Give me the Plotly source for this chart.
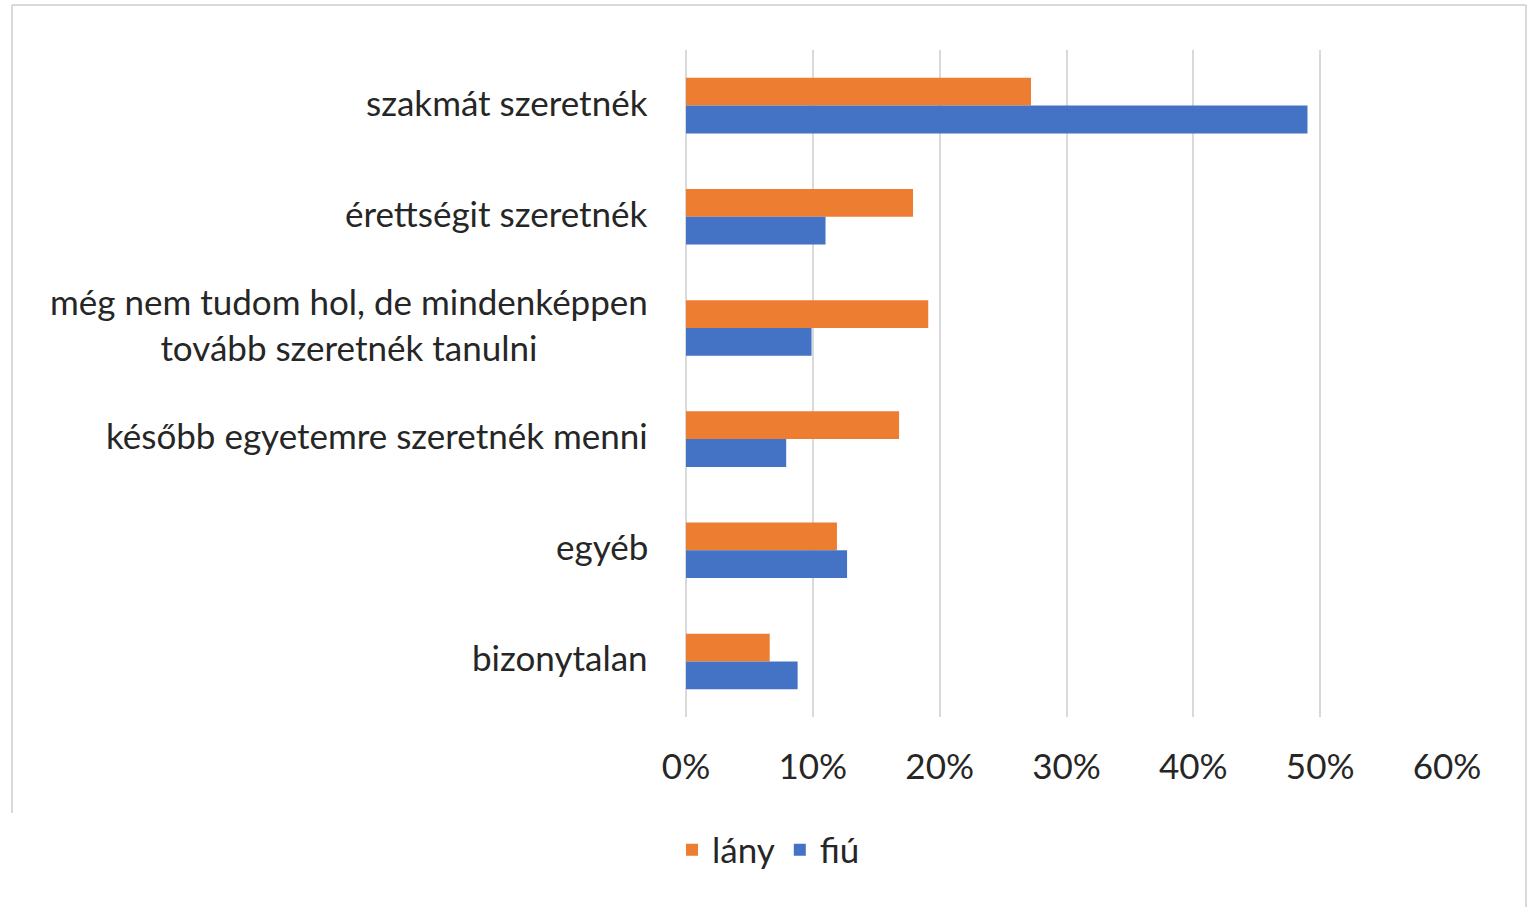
import plotly.graph_objects as go

categories = [
    "szakmát szeretnék",
    "érettségit szeretnék",
    "még nem tudom hol, de mindenképpen<br>tovább szeretnék tanulni",
    "később egyetemre szeretnék menni",
    "egyéb",
    "bizonytalan",
]
lany = [0.272, 0.179, 0.191, 0.168, 0.119, 0.066]
fiu = [0.490, 0.110, 0.099, 0.079, 0.127, 0.088]
tick_vals = [0, 0.1, 0.2, 0.3, 0.4, 0.5, 0.6]
tick_text = ["0%", "10%", "20%", "30%", "40%", "50%", "60%"]

FONT = "Lato"
TXT = "#262626"
W, H = 1531, 907
L, R, T, B = 686, 1447, 50, 717

fig = go.Figure()
fig.add_trace(go.Bar(y=categories, x=lany, orientation="h", name="lány",
                     marker=dict(color="#ED7D31", line=dict(width=0))))
fig.add_trace(go.Bar(y=categories, x=fiu, orientation="h", name="fiú",
                     marker=dict(color="#4472C4", line=dict(width=0))))


def px2x(p):
    return (p - L) / (R - L)


def px2y(p):
    return (B - p) / (B - T)


for c in categories:
    fig.add_annotation(x=px2x(650), xref="paper", y=c, yref="y", yshift=4,
                       text=c, showarrow=False, xanchor="right", yanchor="middle",
                       align="center", font=dict(family=FONT, size=35, color=TXT))

border = "#d9d9d9"
fig.add_shape(type="line", xref="paper", yref="paper", x0=px2x(12), x1=px2x(1526),
              y0=px2y(5), y1=px2y(5), line=dict(color=border, width=2))
fig.add_shape(type="line", xref="paper", yref="paper", x0=px2x(12), x1=px2x(12),
              y0=px2y(5), y1=px2y(813), line=dict(color=border, width=2))
fig.add_shape(type="line", xref="paper", yref="paper", x0=px2x(1526), x1=px2x(1526),
              y0=px2y(5), y1=px2y(907), line=dict(color=border, width=2))

fig.update_layout(
    width=W, height=H,
    margin=dict(l=L, r=W - R, t=T, b=H - B),
    paper_bgcolor="white", plot_bgcolor="white",
    barmode="group", bargap=0.5, bargroupgap=0,
    font=dict(family=FONT, size=35, color=TXT),
    showlegend=True,
    legend=dict(orientation="h", x=px2x(672), xanchor="left", y=px2y(850), yanchor="middle",
                font=dict(family=FONT, size=35, color=TXT), itemwidth=30,
                traceorder="normal", bgcolor="rgba(0,0,0,0)"),
)
fig.update_xaxes(range=[0, 0.6], tickvals=tick_vals, ticktext=tick_text,
                 showgrid=True, gridcolor="#d9d9d9", gridwidth=2,
                 zeroline=True, zerolinecolor="#d9d9d9", zerolinewidth=2,
                 showline=False, ticks="", ticklabelstandoff=26,
                 tickfont=dict(family=FONT, size=35, color=TXT), fixedrange=True)
fig.update_yaxes(autorange="reversed", showticklabels=False, showgrid=False,
                 zeroline=False, showline=False, ticks="", fixedrange=True)

fig.write_html("out.html", config={"displayModeBar": False},
               post_script="document.body.style.margin='0';document.body.style.overflow='hidden';")
